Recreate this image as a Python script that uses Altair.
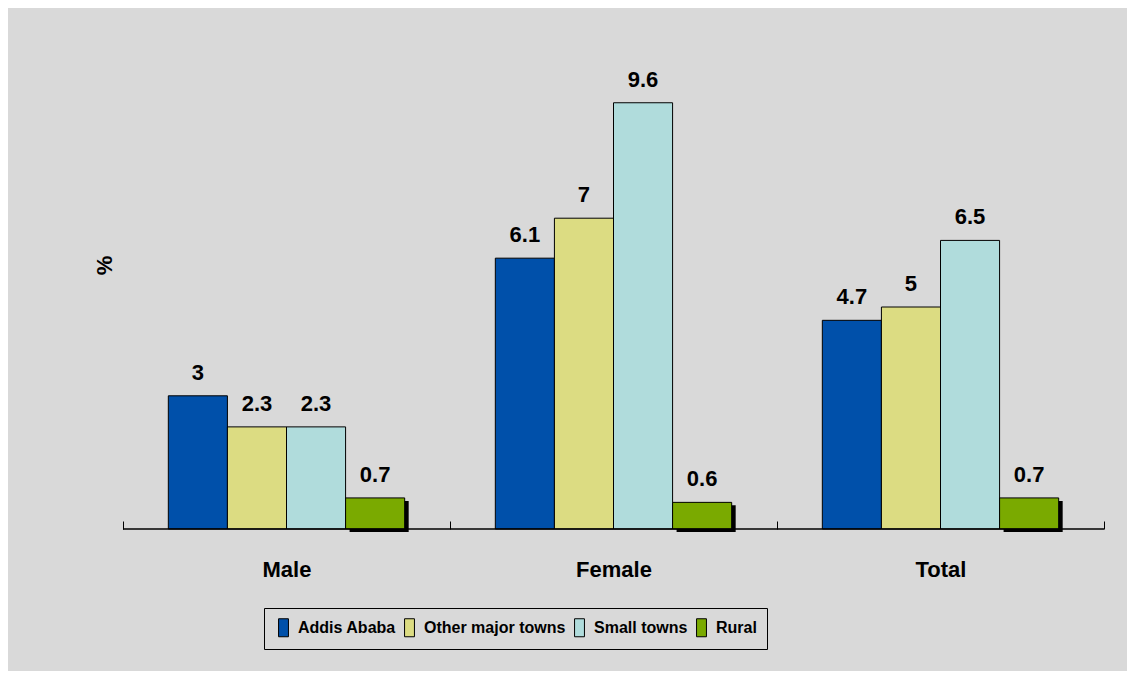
import altair as alt
import pandas as pd

groups = ["Male", "Female", "Total"]
series = ["Addis Ababa", "Other major towns", "Small towns", "Rural"]
addis_ababa = [3, 6.1, 4.7]
other_major = [2.3, 7, 5]
small_towns = [2.3, 9.6, 6.5]
rural = [0.7, 0.6, 0.7]
colors = ["#0050AA", "#DCDC82", "#B0DCDC", "#7AAA00"]

rows = []
for s, vals in zip(series, [addis_ababa, other_major, small_towns, rural]):
    for g, v in zip(groups, vals):
        rows.append({"group": g, "series": s, "value": v})
df = pd.DataFrame(rows)

FONT = "Liberation Sans"
OUTER = 0.767  # outer padding of the offset scale, in steps

x_axis = alt.Axis(title=None, domain=False, tickBand="extent", bandPosition=0.5,
                  tickSize=8, tickColor="black", tickWidth=1, offset=-8,
                  labelPadding=30, labelFontSize=22, labelFontWeight="bold",
                  labelColor="black", labelFont=FONT, labelAngle=0)
y_axis = alt.Axis(title="%", grid=False, domain=False, ticks=False, labels=False,
                  titleAngle=270, titleX=-19, titleY=180, titleAlign="center",
                  titleBaseline="middle", titleFontSize=22, titleFontWeight="bold",
                  titleFont=FONT, titleColor="black")
x_scale = alt.Scale(paddingInner=0, paddingOuter=0)
y_scale = alt.Scale(domain=[0, 10])

x = alt.X("group:N", sort=groups, scale=x_scale, axis=x_axis)
xoff = alt.XOffset("series:N", sort=series,
                   scale=alt.Scale(paddingOuter=OUTER, paddingInner=0))
y = alt.Y("value:Q", scale=y_scale, axis=y_axis)

base = alt.Chart(df)

# drop shadow behind the Rural bars (last slot in each group)
step = 1.0 / (len(series) + 2 * OUTER)
rural_start = (OUTER + 3) * step
rural_end = (OUTER + 4) * step
shadow = base.transform_filter(alt.datum.series == "Rural").mark_rect(
    color="black", xOffset=4, x2Offset=4, yOffset=3, y2Offset=3
).encode(
    x=alt.X("group:N", sort=groups, bandPosition=rural_start, scale=x_scale, axis=x_axis),
    x2=alt.X2("group", bandPosition=rural_end),
    y=alt.Y("value:Q", scale=y_scale, axis=y_axis),
    y2=alt.Y2(datum=0),
)

bars = base.mark_bar(stroke="black", strokeWidth=1).encode(
    x=x, xOffset=xoff, y=y,
    color=alt.Color("series:N", sort=series,
                    scale=alt.Scale(domain=series, range=colors),
                    legend=alt.Legend(title=None)),
)

baseline = alt.Chart(pd.DataFrame({"v": [0]})).mark_rule(color="black", strokeWidth=1.5).encode(
    y=alt.Y("v:Q", scale=y_scale, axis=y_axis)
)

labels = base.mark_text(
    baseline="alphabetic", dy=-16, fontSize=22, fontWeight="bold", font=FONT, color="black"
).encode(x=x, xOffset=xoff, y=y, text=alt.Text("value:Q"))

chart = alt.layer(shadow, bars, baseline, labels).properties(
    width=981, height=444,
    background="#D9D9D9",
    padding={"left": 115, "top": 77, "right": 23, "bottom": 142},
    autosize=alt.AutoSizeParams(type="none"),
).configure_view(stroke=None).configure_legend(
    orient="none", legendX=141, legendY=523, direction="horizontal",
    strokeColor="black", padding=10,
    symbolType="M-0.55,-1L0.55,-1L0.55,1L-0.55,1Z", symbolSize=324,
    symbolStrokeColor="black", symbolStrokeWidth=1,
    labelFont=FONT, labelFontSize=16, labelFontWeight="bold", labelLimit=0,
    labelColor="black", columnPadding=4, labelOffset=5,
)

chart.save("out.html", embed_options={"renderer": "svg", "actions": False})
